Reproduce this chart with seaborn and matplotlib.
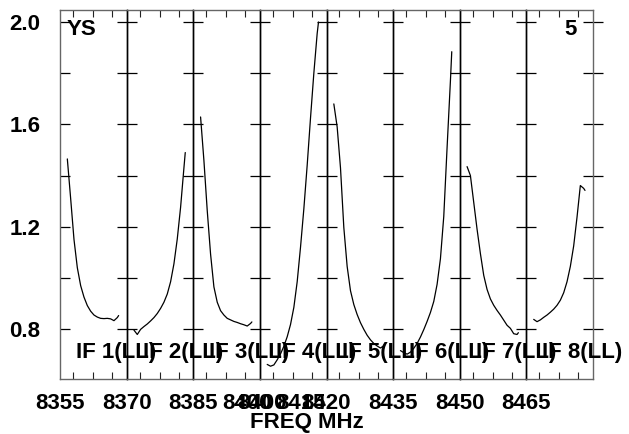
import numpy as np
import pandas as pd
import seaborn as sns
import matplotlib.pyplot as plt

# channel positions within each IF band (fraction of the plotted band)
chan_frac = [0.11, 0.16, 0.21, 0.26, 0.31, 0.36, 0.41, 0.46, 0.51,
             0.56, 0.61, 0.66, 0.71, 0.76, 0.81, 0.86, 0.88]

# plotted frequency window of each IF panel (MHz)
if_lo = [8355, 8370, 8385, 8399, 8420, 8435, 8450, 8465]
if_bw = [15, 15, 18.5, 26, 15, 15, 15, 15]
if_names = ["IF 1(LL)", "IF 2(LL)", "IF 3(LL)", "IF 4(LL)",
            "IF 5(LL)", "IF 6(LL)", "IF 7(LL)", "IF 8(LL)"]
panel_ticks = [[8355], [8370], [8385, 8400], [8400, 8415],
               [8420], [8435], [8450], [8465]]

# bandpass amplitudes
amp_if1 = [1.465, 1.31, 1.15, 1.04, 0.97, 0.925, 0.892, 0.870, 0.855,
           0.847, 0.842, 0.841, 0.842, 0.840, 0.833, 0.845, 0.853]
amp_if2 = [0.796, 0.779, 0.799, 0.810, 0.820, 0.832, 0.845, 0.861, 0.881,
           0.905, 0.937, 0.985, 1.055, 1.152, 1.276, 1.43, 1.49]
amp_if3 = [1.629, 1.459, 1.263, 1.093, 0.965, 0.905, 0.872, 0.855, 0.842,
           0.836, 0.830, 0.826, 0.821, 0.817, 0.812, 0.822, 0.828]
amp_if4 = [0.662, 0.655, 0.660, 0.680, 0.703, 0.733, 0.770, 0.818, 0.885,
           0.985, 1.12, 1.27, 1.44, 1.625, 1.80, 1.955, 2.0]
amp_if5 = [1.68, 1.59, 1.43, 1.197, 1.045, 0.950, 0.896, 0.857, 0.825,
           0.799, 0.776, 0.758, 0.744, 0.734, 0.726, 0.735, 0.742]
amp_if6 = [0.716, 0.708, 0.702, 0.710, 0.725, 0.744, 0.769, 0.798, 0.830,
           0.865, 0.908, 0.975, 1.075, 1.24, 1.51, 1.77, 1.884]
amp_if7 = [1.435, 1.40, 1.295, 1.19, 1.095, 1.01, 0.955, 0.918, 0.893,
           0.873, 0.855, 0.835, 0.815, 0.803, 0.782, 0.779, 0.786]
amp_if8 = [0.838, 0.829, 0.836, 0.846, 0.855, 0.866, 0.878, 0.893, 0.913,
           0.942, 0.985, 1.045, 1.125, 1.237, 1.361, 1.35, 1.342]
amps = [amp_if1, amp_if2, amp_if3, amp_if4, amp_if5, amp_if6, amp_if7, amp_if8]

y_major = [0.8, 1.2, 1.6, 2.0]
y_minor = [1.0, 1.4, 1.8]
minor_frac = [0.195, 0.495, 0.78]

rows = []
for i in range(8):
    for f, a in zip(chan_frac, amps[i]):
        rows.append([if_names[i], if_lo[i] + f * if_bw[i], a])
df = pd.DataFrame(rows, columns=["IF", "freq", "amp"])

sns.set_style("ticks")
plt.rcParams["font.family"] = ["Liberation Sans", "DejaVu Sans"]
plt.rcParams["font.weight"] = "bold"
plt.rcParams["font.size"] = 16
plt.rcParams["text.color"] = "black"
plt.rcParams["xtick.color"] = "black"
plt.rcParams["ytick.color"] = "black"
plt.rcParams["xtick.labelcolor"] = "black"
plt.rcParams["ytick.labelcolor"] = "black"

fig, axes = plt.subplots(1, 8, sharey=True, figsize=(6.29, 4.34), dpi=100)
fig.subplots_adjust(left=60 / 629, right=593 / 629, top=1 - 10 / 434,
                    bottom=1 - 379 / 434, wspace=0)

for i, ax in enumerate(axes):
    ax.patch.set_visible(False)
    sub = df[df["IF"] == if_names[i]]
    sns.lineplot(data=sub, x="freq", y="amp", ax=ax, color="black",
                 linewidth=0.9, estimator=None, sort=False, legend=False)
    lo, hi = if_lo[i], if_lo[i] + if_bw[i]
    ax.set_xlim(lo, hi)
    ax.set_ylim(0.605, 2.047)
    ax.set_xticks(panel_ticks[i])
    ax.set_xticklabels([str(t) for t in panel_ticks[i]], fontweight="bold")
    ax.set_xticks([lo + m * if_bw[i] for m in minor_frac], minor=True)
    ax.set_yticks(y_major)
    ax.set_yticks(y_minor, minor=True)
    ax.set_xlabel("")
    ax.set_ylabel("")
    ax.tick_params(axis="x", which="major", length=0, pad=10, labelsize=16)
    ax.tick_params(axis="x", which="minor", direction="in", length=5,
                   width=0.8, top=True, bottom=True, color="#222222")
    for s in ax.spines.values():
        s.set_color("black")
        s.set_linewidth(1.0)
        s.set_visible(True)
    if i == 0:
        ax.tick_params(axis="y", which="both", direction="in", length=7,
                       width=0.9, pad=14, labelsize=16)
        ax.set_yticklabels([f"{v:.1f}" for v in y_major], fontweight="bold")
        ax.spines["left"].set_color("#666666")
    else:
        ax.tick_params(axis="y", which="both", direction="inout", length=14,
                       width=0.9, labelleft=False)
    if i == 7:
        ax.tick_params(axis="y", which="both", right=True)
        ax.spines["right"].set_color("#666666")
    ax.spines["top"].set_color("#666666")
    ax.spines["bottom"].set_color("#666666")
    ax.text(0.24, 0.057, if_names[i], transform=ax.transAxes, fontsize=16,
            fontweight="bold", ha="left", va="baseline", clip_on=False,
            zorder=10)

axes[0].text(0.105, 0.975, "YS", transform=axes[0].transAxes, fontsize=16,
             fontweight="bold", ha="left", va="top")
axes[7].text(0.76, 0.975, "5", transform=axes[7].transAxes, fontsize=16,
             fontweight="bold", ha="right", va="top")
fig.text(307 / 629, 0.014, "FREQ MHz", ha="center", va="baseline",
         fontsize=16, fontweight="bold")

fig.savefig("out.png", dpi=100)
